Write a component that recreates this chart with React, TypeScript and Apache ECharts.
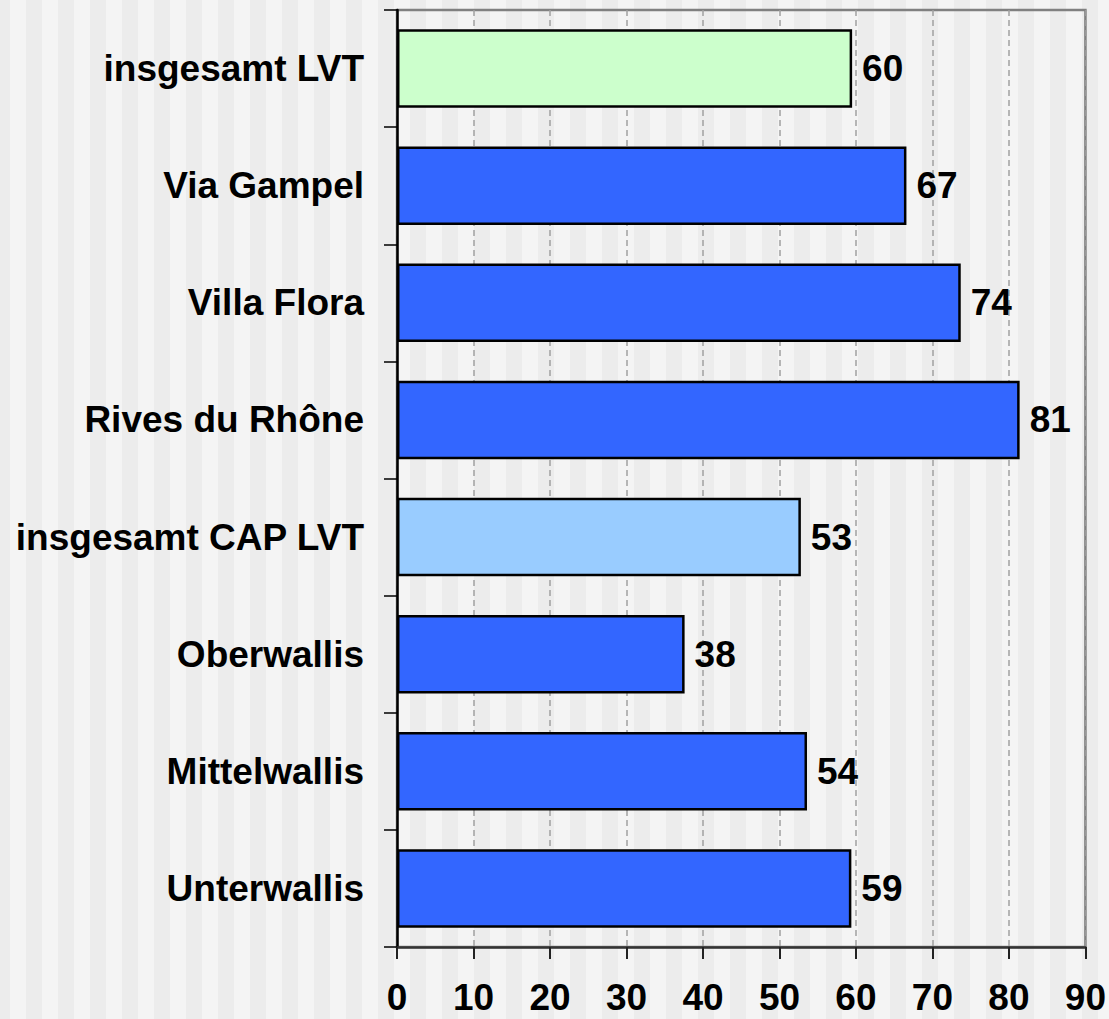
import React, { useEffect, useRef } from "react";
import * as echarts from "echarts";

const categories = [
  "insgesamt LVT",
  "Via Gampel",
  "Villa Flora",
  "Rives du Rhône",
  "insgesamt CAP LVT",
  "Oberwallis",
  "Mittelwallis",
  "Unterwallis",
];
const values = [59.5, 66.6, 73.7, 81.4, 52.8, 37.6, 53.6, 59.4];
const barColors = ["#ccffcc", "#3366ff", "#3366ff", "#3366ff", "#99ccff", "#3366ff", "#3366ff", "#3366ff"];
const xTicks = [0, 10, 20, 30, 40, 50, 60, 70, 80, 90];

const W = 1109;
const H = 1019;
const FONT = "'Liberation Sans', Arial, sans-serif";

export default function App() {
  const ref = useRef<HTMLDivElement>(null);
  useEffect(() => {
    document.body.style.margin = "0";
    const chart = echarts.init(ref.current!, null, { renderer: "svg" });
    const stripes: any[] = [{ type: "rect", z: -100, silent: true, shape: { x: 0, y: 0, width: W, height: H }, style: { fill: "#f4f4f4" } }];
    for (let x = -6; x < W; x += 32) {
      stripes.push({ type: "rect", z: -99, silent: true, shape: { x, y: 0, width: 16, height: H }, style: { fill: "#ececec" } });
    }
    chart.setOption({
      animation: false,
      backgroundColor: "#f4f4f4",
      graphic: stripes,
      grid: {
        left: 397,
        right: 23,
        top: 10,
        bottom: 72,
        show: true,
        borderColor: "#808080",
        borderWidth: 2.5,
        backgroundColor: "transparent",
        containLabel: false,
      },
      xAxis: {
        type: "value",
        min: xTicks[0],
        max: xTicks[xTicks.length - 1],
        interval: 10,
        axisLine: { show: true, lineStyle: { color: "#333", width: 2.5 } },
        axisTick: { show: true, length: 12, lineStyle: { color: "#222", width: 2 } },
        axisLabel: {
          margin: 35,
          fontFamily: FONT,
          fontWeight: "bold",
          fontSize: 37,
          lineHeight: 30,
          color: "#000",
        },
        splitLine: {
          show: true,
          lineStyle: { color: "#a0a0a0", width: 1.5, type: [6, 4] },
        },
      },
      yAxis: {
        type: "category",
        data: categories,
        inverse: true,
        axisLine: { show: true, lineStyle: { color: "#000", width: 2.5 } },
        axisTick: { show: true, length: 13, lineStyle: { color: "#000", width: 1.5 } },
        axisLabel: {
          margin: 33,
          fontFamily: FONT,
          fontWeight: "bold",
          fontSize: 37,
          color: "#000",
        },
        splitLine: { show: false },
      },
      series: [
        {
          type: "bar",
          barCategoryGap: "33%",
          data: values.map((v, i) => ({
            value: v,
            itemStyle: { color: barColors[i], borderColor: "#000", borderWidth: 2.5 },
          })),
          label: {
            show: true,
            position: "right",
            distance: 10,
            formatter: (p: any) => String(Math.round(p.value)),
            fontFamily: FONT,
            fontWeight: "bold",
            fontSize: 37,
            color: "#000",
          },
        },
      ],
    });
    return () => chart.dispose();
  }, []);
  return <div ref={ref} style={{ width: W, height: H, position: "absolute", left: 0, top: 0 }} />;
}
